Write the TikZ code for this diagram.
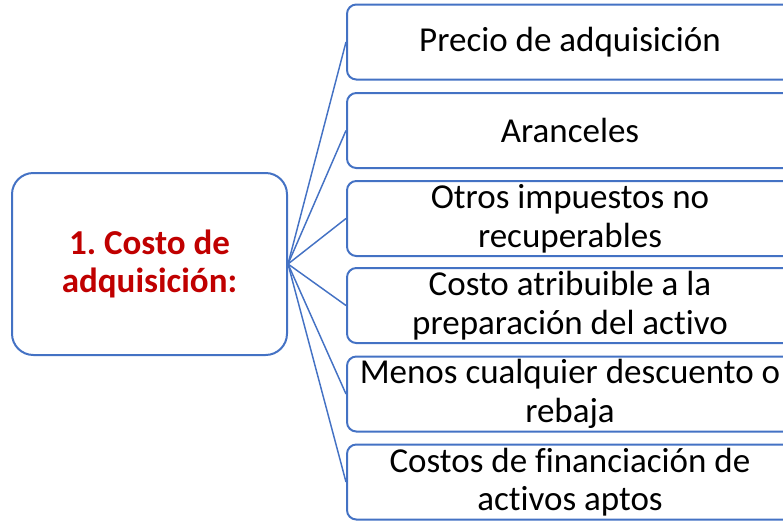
\documentclass[tikz,border=0pt]{standalone}
\usepackage{fontspec}
\setmainfont{Carlito}[Ligatures=NoCommon]
\definecolor{lineblue}{HTML}{4472C4}
\definecolor{rootred}{HTML}{C00000}
\frenchspacing
\begin{document}
\begin{tikzpicture}[x=0.75pt,y=-0.75pt]
\tikzset{
  rootbox/.style={draw=lineblue, line width=1.5pt, rounded corners=16pt,
    minimum width=206.25pt, minimum height=136.5pt, align=center,
    text=rootred, font=\fontsize{26.25}{28.5}\selectfont\bfseries, inner sep=0pt},
  itembox/.style={draw=lineblue, line width=1.5pt, rounded corners=7pt,
    minimum width=334.5pt, minimum height=56.25pt, align=center,
    text=black, font=\fontsize{26.25}{29}\selectfont, inner sep=0pt},
  conn/.style={draw=lineblue, line width=1.1pt}
}
\useasboundingbox (0,0) rectangle (783,521);
\clip (0,0) rectangle (783,521);
\node[rootbox] (root) at (149.5,264) {1. Costo de\\adquisición:};
\node[itembox] (b1) at (570,42) {Precio de adquisición};
\node[itembox] (b2) at (570,130.5) {Aranceles};
\node[itembox] (b3) at (570,218.5) {Otros impuestos no\\recuperables};
\node[itembox] (b4) at (570,305.5) {Costo atribuible a la\\preparación del activo};
\node[itembox] (b5) at (570,394) {Menos cualquier descuento o\\rebaja};
\node[itembox] (b6) at (570,482) {Costos de financiación de\\activos aptos};
\foreach \b in {b1,b2,b3,b4,b5,b6}
  \draw[conn] (root.east) -- (\b.west);
\end{tikzpicture}
\end{document}
